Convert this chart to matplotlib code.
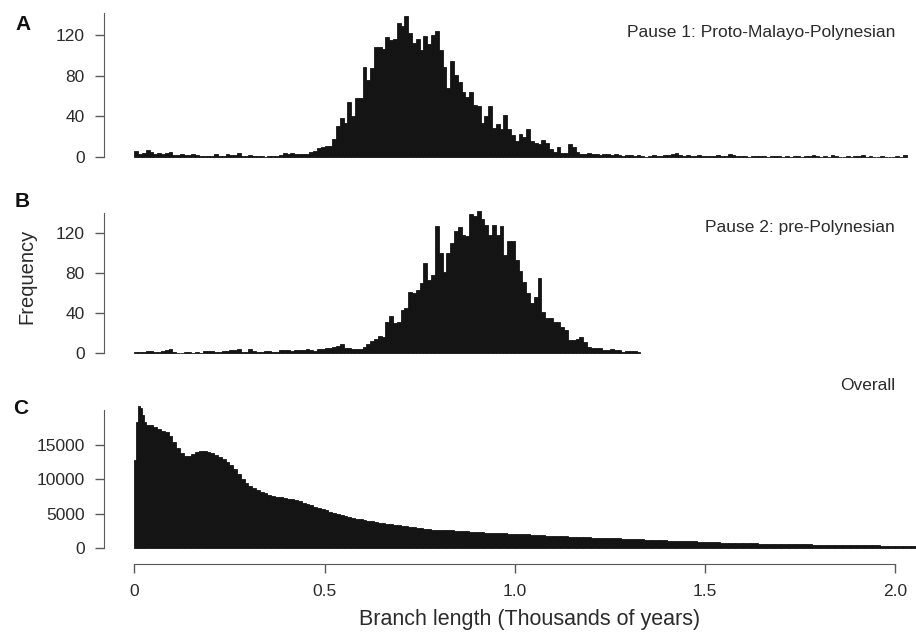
import numpy as np
import matplotlib
matplotlib.use('Agg')
from matplotlib import pyplot as plt

plt.rcParams['font.family'] = ['Liberation Sans', 'DejaVu Sans']

# histogram counts, bins of 0.01 starting at 0
bin_width = 0.01
a_counts = [
    6, 3, 4, 7, 5, 3, 4, 3, 4, 5,
    2, 2, 3, 2, 2, 3, 2, 1, 1, 1,
    1, 3, 1, 1, 3, 2, 2, 4, 1, 1,
    2, 1, 1, 1, 0, 1, 1, 1, 2, 4,
    3, 4, 3, 3, 3, 3, 5, 6, 9, 10,
    11, 11, 18, 30, 38, 33, 54, 40, 58, 58,
    89, 76, 88, 108, 108, 106, 118, 115, 116, 132,
    129, 139, 122, 112, 116, 105, 119, 111, 120, 124,
    105, 89, 68, 94, 81, 74, 64, 59, 64, 51,
    50, 33, 40, 50, 29, 32, 28, 41, 28, 22,
    16, 23, 20, 28, 16, 14, 13, 17, 14, 8,
    5, 10, 4, 4, 13, 10, 5, 3, 3, 4,
    3, 3, 2, 3, 3, 2, 3, 2, 1, 2,
    2, 1, 2, 1, 0, 1, 2, 1, 1, 2,
    2, 3, 4, 2, 1, 2, 1, 1, 2, 1,
    1, 1, 1, 2, 1, 1, 3, 2, 1, 1,
    1, 0, 1, 1, 1, 1, 0, 1, 1, 1,
    0, 1, 0, 1, 1, 0, 1, 1, 2, 1,
    0, 1, 0, 2, 1, 0, 0, 1, 0, 1,
    1, 2, 0, 1, 0, 0, 1, 0, 0, 0,
    1, 0, 2,
]
b_counts = [
    1, 1, 1, 2, 2, 1, 1, 2, 3, 4,
    1, 0, 0, 1, 1, 0, 1, 0, 2, 2,
    2, 1, 1, 2, 2, 3, 3, 4, 1, 1,
    4, 2, 1, 1, 2, 2, 1, 1, 3, 3,
    3, 2, 3, 3, 3, 4, 3, 2, 4, 4,
    5, 5, 6, 7, 9, 5, 5, 4, 4, 4,
    6, 9, 12, 14, 17, 16, 31, 37, 30, 31,
    43, 45, 61, 60, 63, 70, 90, 73, 78, 127,
    100, 81, 100, 110, 122, 126, 118, 117, 140, 138,
    143, 135, 128, 118, 128, 118, 127, 98, 112, 112,
    93, 82, 71, 60, 50, 56, 75, 41, 35, 35,
    31, 31, 26, 23, 13, 13, 14, 16, 11, 6,
    5, 5, 5, 3, 3, 4, 3, 3, 1, 2,
    2, 2, 1,
]

# overall histogram, read at three resolutions
c_fine_start, c_fine_width = 0.0, 0.005
c_fine_counts = [12800, 18400, 20700, 20400, 19400, 18400]
c_mid_start, c_mid_width = 0.03, 0.01
c_mid_counts = [
    18000, 17900, 17600, 17350, 17100, 16850, 16400,
    15500, 14600, 13900, 13350, 13450, 13750, 14000, 14150, 14200, 14050,
    13850, 13600, 13250, 12950, 12500, 12050, 11500, 10800, 10050, 9500,
    9050, 8750, 8450, 8200, 7950, 7750, 7550, 7450, 7350, 7250,
    7150, 7050, 6950, 6800, 6600, 6400, 6200, 6000, 5800, 5650,
    5450, 5250, 5100, 4950, 4800, 4650, 4500, 4400, 4250, 4150,
    4050, 3950, 3850, 3750, 3650, 3600, 3500, 3450, 3350, 3300,
    3200, 3150, 3050, 3000, 2920, 2850, 2780, 2720, 2650, 2600,
]
c_tail_start, c_tail_width = 0.80, 0.02
c_tail_counts = [
    2560, 2520, 2460, 2400, 2340, 2280, 2220, 2160, 2100, 2050,
    2000, 1950, 1890, 1840, 1780, 1730, 1680, 1630, 1580, 1530,
    1480, 1440, 1390, 1350, 1310, 1260, 1220, 1170, 1130, 1080,
    1040, 1000, 960, 920, 880, 840, 800, 760, 730, 700,
    670, 640, 610, 590, 560, 540, 520, 500, 480, 460,
    450, 430, 420, 400, 390, 370, 350, 330, 310, 290,
    270, 250, 230,
]

count_ticks = [0, 40, 80, 120]
overall_ticks = [0, 5000, 10000, 15000]
x_ticks = [0, 0.5, 1.0, 1.5, 2.0]
x_tick_labels = ['0', '0.5', '1.0', '1.5', '2.0']

bar_color = '#141414'
axis_color = '#5a5a5a'
text_color = '#2b2b2b'

W, H = 916, 635
fig = plt.figure(figsize=(W / 100, H / 100), dpi=100)

x_zero, x_scale = 134.3, 380.5
xlim = ((104 - x_zero) / x_scale, (916 - x_zero) / x_scale)


def add_panel(baseline_px, px_per_unit, ylim):
    """Axes whose data baseline sits at baseline_px (pixels from top)."""
    top = baseline_px - ylim[1] * px_per_unit
    bottom = baseline_px - ylim[0] * px_per_unit
    ax = fig.add_axes([104 / W, 1 - bottom / H, (916 - 104) / W, (bottom - top) / H])
    ax.set_xlim(xlim)
    ax.set_ylim(ylim)
    ax.patch.set_visible(False)
    return ax


def style_panel(ax, yticks, spine_top):
    for side in ['top', 'right', 'bottom']:
        ax.spines[side].set_visible(False)
    ax.spines['left'].set_bounds(0, spine_top)
    ax.spines['left'].set_color(axis_color)
    ax.set_yticks(yticks)
    ax.set_yticklabels([str(t) for t in yticks])
    ax.tick_params(axis='y', length=6.5, width=1, color=axis_color,
                   labelcolor=text_color, labelsize=12.5, pad=7.5)
    ax.set_xticks([])


def draw_bars(ax, start, width, counts):
    lefts = start + np.arange(len(counts)) * width
    ax.bar(lefts, counts, width=width, align='edge', color=bar_color,
           edgecolor=bar_color, linewidth=0.6)


ax_a = add_panel(157.0, 1.0167, (-2, 150))
draw_bars(ax_a, 0.0, bin_width, a_counts)
style_panel(ax_a, count_ticks, 141.5)

ax_b = add_panel(352.7, 0.994, (-2, 150))
draw_bars(ax_b, 0.0, bin_width, b_counts)
style_panel(ax_b, count_ticks, 140.2)

ax_c = add_panel(547.7, 0.00684, (-300, 21500))
draw_bars(ax_c, c_fine_start, c_fine_width, c_fine_counts)
draw_bars(ax_c, c_mid_start, c_mid_width, c_mid_counts)
draw_bars(ax_c, c_tail_start, c_tail_width, c_tail_counts)
style_panel(ax_c, overall_ticks, 20100)

ax_c.spines['bottom'].set_visible(True)
ax_c.spines['bottom'].set_color(axis_color)
ax_c.spines['bottom'].set_position(('outward', 10.4))
ax_c.spines['bottom'].set_bounds(0, 2.0)
ax_c.set_xticks(x_ticks)
ax_c.set_xticklabels(x_tick_labels)
ax_c.tick_params(axis='x', length=6.5, width=1, color=axis_color,
                 labelcolor=text_color, labelsize=12.5, pad=7.5)


def fig_text(x_px, y_px, s, **kw):
    kw.setdefault('color', text_color)
    fig.text(x_px / W, 1 - y_px / H, s, **kw)


fig_text(895, 33, 'Pause 1: Proto-Malayo-Polynesian', ha='right', va='center', size=12.5)
fig_text(895, 228, 'Pause 2: pre-Polynesian', ha='right', va='center', size=12.5)
fig_text(895, 386, 'Overall', ha='right', va='center', size=12.5)

fig_text(23, 24, 'A', ha='center', va='center', size=15, weight='bold', color='#111111')
fig_text(22.5, 201.7, 'B', ha='center', va='center', size=15, weight='bold', color='#111111')
fig_text(21, 408.7, 'C', ha='center', va='center', size=15, weight='bold', color='#111111')

fig_text(27, 276.7, 'Frequency', rotation=90, ha='center', va='center', size=14.5)
fig_text(529.5, 619, 'Branch length (Thousands of years)', ha='center', va='center', size=15.5)

fig.savefig('out.png', dpi=100)
